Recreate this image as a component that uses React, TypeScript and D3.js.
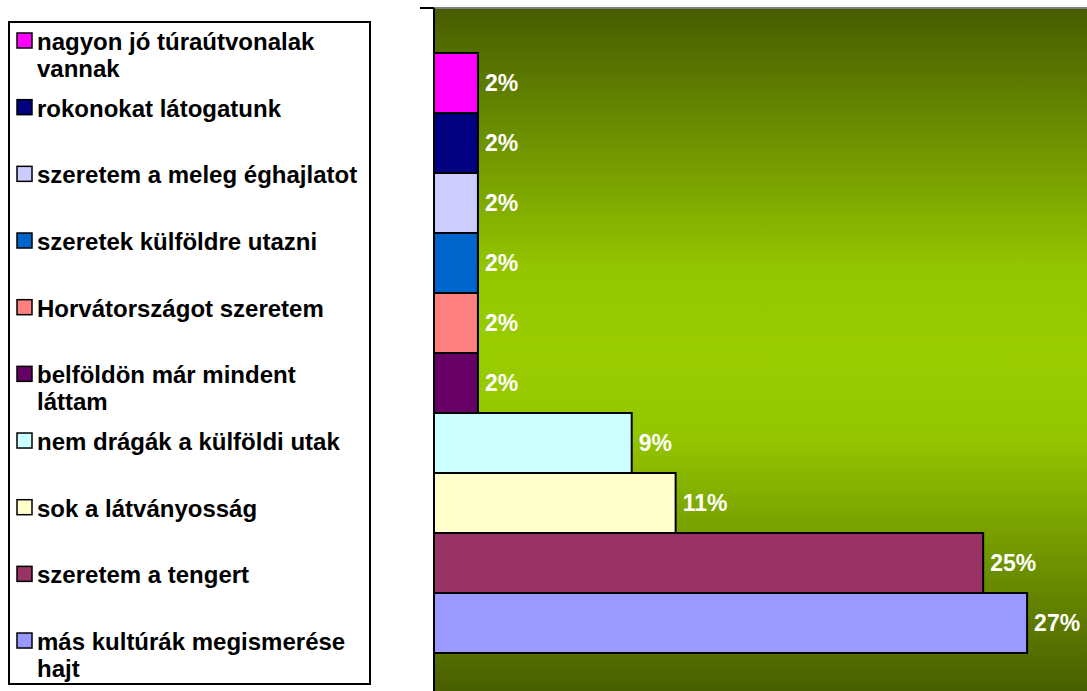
import React from "react";
import * as d3 from "d3";

const categories = [
  "nagyon jó túraútvonalak vannak",
  "rokonokat látogatunk",
  "szeretem a meleg éghajlatot",
  "szeretek külföldre utazni",
  "Horvátországot szeretem",
  "belföldön már mindent láttam",
  "nem drágák a külföldi utak",
  "sok a látványosság",
  "szeretem a tengert",
  "más kultúrák megismerése hajt",
];
const legendLines = [
  ["nagyon jó túraútvonalak", "vannak"],
  ["rokonokat látogatunk"],
  ["szeretem a meleg éghajlatot"],
  ["szeretek külföldre utazni"],
  ["Horvátországot szeretem"],
  ["belföldön már mindent", "láttam"],
  ["nem drágák a külföldi utak"],
  ["sok a látványosság"],
  ["szeretem a tengert"],
  ["más kultúrák megismerése", "hajt"],
];
const values = [2, 2, 2, 2, 2, 2, 9, 11, 25, 27];
const colors = [
  "#ff00ff",
  "#000080",
  "#ccccff",
  "#0066cc",
  "#ff8080",
  "#660066",
  "#ccffff",
  "#ffffcc",
  "#993366",
  "#9999ff",
];

const W = 1087;
const H = 691;
const plotLeft = 434;
const plotTop = 8;
const plotBottom = 698;
const font = "'Liberation Sans', Arial, sans-serif";

export default function App() {
  const x = d3.scaleLinear().domain([0, 30]).range([plotLeft, plotLeft + 659]);
  const y = d3
    .scaleBand<string>()
    .domain(categories)
    .range([plotTop, plotBottom])
    .paddingInner(0)
    .paddingOuter(0.75);
  const legendY = d3
    .scaleLinear()
    .domain([0, categories.length])
    .range([33, 33 + 66.67 * categories.length]);

  return (
    <svg
      width={W}
      height={H}
      style={{ position: "absolute", left: 0, top: 0, background: "#fff" }}
    >
      <defs>
        <linearGradient id="bg" x1="0" y1="0" x2="0" y2="1">
          <stop offset="0" stopColor="#475c00" />
          <stop offset="0.38" stopColor="#94c600" />
          <stop offset="0.5" stopColor="#99cc00" />
          <stop offset="0.62" stopColor="#94c600" />
          <stop offset="1" stopColor="#475c00" />
        </linearGradient>
      </defs>
      <rect
        x={plotLeft}
        y={plotTop}
        width={W - plotLeft + 10}
        height={plotBottom - plotTop}
        fill="url(#bg)"
      />
      <line x1={plotLeft} x2={W} y1={plotTop} y2={plotTop} stroke="#808080" strokeWidth={2} />
      {categories.map((c, i) => (
        <rect
          key={c}
          x={x(0)}
          y={y(c)!}
          width={x(values[i]) - x(0)}
          height={y.bandwidth()}
          fill={colors[i]}
          stroke="#000"
          strokeWidth={2}
        />
      ))}
      {categories.map((c, i) => (
        <text
          key={c + "l"}
          x={x(values[i]) + 7}
          y={y(c)! + y.bandwidth() / 2 + 8}
          fill="#fff"
          fontFamily={font}
          fontWeight="bold"
          fontSize={23}
        >
          {values[i]}%
        </text>
      ))}
      <line x1={plotLeft} x2={plotLeft} y1={plotTop} y2={plotBottom} stroke="#000" strokeWidth={2} />
      <line x1={420} x2={plotLeft} y1={plotTop} y2={plotTop} stroke="#000" strokeWidth={2} />

      <rect x={9} y={22} width={361} height={662} fill="#fff" stroke="#000" strokeWidth={2} />
      {categories.map((c, i) => {
        const top = legendY(i);
        return (
          <g key={c + "g"}>
            <rect x={17} y={top} width={15} height={15} fill={colors[i]} stroke="#000" strokeWidth={1.5} />
            <text fontFamily={font} fontWeight="bold" fontSize={24} fill="#000">
              {legendLines[i].map((ln, j) => (
                <tspan key={j} x={37} y={top + 17 + j * 27}>
                  {ln}
                </tspan>
              ))}
            </text>
          </g>
        );
      })}
    </svg>
  );
}
